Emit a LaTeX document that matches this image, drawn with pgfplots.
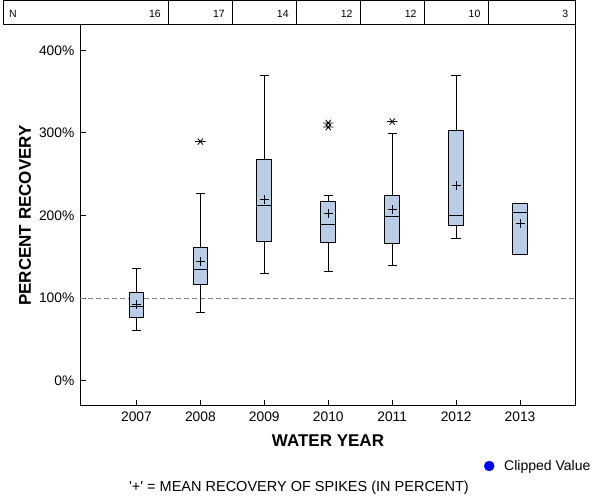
\documentclass[border=0pt]{standalone}
\usepackage{fontspec}
\setmainfont{Liberation Sans}
\usepackage{pgfplots}
\pgfplotsset{compat=1.18}
\definecolor{boxblue}{RGB}{184,206,230}
\definecolor{dashgray}{RGB}{128,128,128}
% whiskers: center, cap left, cap right, lower whisker, lower quartile, upper quartile, upper whisker
\newcommand{\whisk}[7]{%
  \addplot[black, line width=1pt, forget plot] coordinates {(#1,#5) (#1,#4)};
  \addplot[black, line width=1pt, forget plot] coordinates {(#2,#4) (#3,#4)};
  \addplot[black, line width=1pt, forget plot] coordinates {(#1,#6) (#1,#7)};
  \addplot[black, line width=1pt, forget plot] coordinates {(#2,#7) (#3,#7)};
}
% box: left, right, lower quartile, median, upper quartile
\newcommand{\boxx}[5]{%
  \addplot[black, line width=1pt, fill=boxblue, line cap=rect, forget plot] coordinates {(#1,#3) (#2,#3) (#2,#5) (#1,#5) (#1,#3)};
  \addplot[black, line width=1pt, forget plot] coordinates {(#1,#4) (#2,#4)};
}
\begin{document}
\begin{tikzpicture}
\begin{axis}[
  scale only axis, width=495pt, height=381pt,
  xmin=-0.875, xmax=6.867, ymin=-30.6, ymax=430.6,
  clip=false,
  axis line style={line width=1pt, black},
  xtick={0,1,2,3,4,5,6},
  xticklabels={2007,2008,2009,2010,2011,2012,2013},
  ytick={0,100,200,300,400},
  yticklabels={0\%,100\%,200\%,300\%,400\%},
  xtick pos=lower, ytick pos=lower,
  tick align=inside, major tick length=6pt,
  tick style={black, line width=1pt},
  ticklabel style={font=\fontsize{13.8}{16}\selectfont},
  xticklabel style={anchor=base, yshift=-15.5pt},
  yticklabel style={anchor=east, inner sep=0pt, xshift=-6pt},
  xlabel={WATER YEAR},
  xlabel style={font=\bfseries\fontsize{17}{20}\selectfont, at={(axis description cs:0.5,-0.1076)}, anchor=base},
  ylabel={PERCENT RECOVERY},
  ylabel style={font=\bfseries\fontsize{17}{20}\selectfont, at={(axis description cs:-0.1,0.5)}, anchor=base},
  legend style={at={(0.8152,-0.1575)}, anchor=west, draw=none, fill=none, inner sep=0pt,
    font=\fontsize{14}{16}\selectfont},
]
\addplot[forget plot, dashgray, line width=1pt, dash pattern=on 5pt off 3pt] coordinates {(-0.875,100) (6.867,100)};

% whiskers
\whisk{0}{-0.0725}{0.0725}{61}{76.7}{106.9}{135.9}
\whisk{1}{0.9275}{1.0725}{82.7}{116.6}{161.3}{226.6}
\whisk{2}{1.9275}{2.0725}{129.9}{168.6}{267.7}{369.6}
\whisk{3}{2.9275}{3.0725}{132.3}{167.4}{216.9}{223.7}
\whisk{4}{3.9275}{4.0725}{139.5}{166.1}{224.2}{299.2}
\whisk{5}{4.9275}{5.0725}{172.6}{187.9}{302.8}{369.6}
% boxes
\boxx{-0.115}{0.115}{76.7}{90}{106.9}
\boxx{0.885}{1.115}{116.6}{134.7}{161.3}
\boxx{1.885}{2.115}{168.6}{212.1}{267.7}
\boxx{2.885}{3.115}{167.4}{189.1}{216.9}
\boxx{3.885}{4.115}{166.1}{198.8}{224.2}
\boxx{4.885}{5.115}{187.9}{200.0}{302.8}
\boxx{5.885}{6.115}{152.8}{203.6}{214.5}

% means
\addplot[forget plot, only marks, mark=+, mark size=4.5pt, mark options={black, line width=1pt}]
  coordinates {(0,92.4) (1,143.9) (2,219.3) (3,201.9) (4,207.3) (5,235.8) (6,189.8)};
% outliers
\addplot[forget plot, only marks, mark=asterisk, mark size=4.5pt, mark options={black, line width=0.8pt, rotate=90, xscale=0.8, yscale=1.15}]
  coordinates {(1,289.5) (3,312) (3,307) (4,313.7)};

\addlegendimage{only marks, mark=*, mark size=5pt, mark options={draw=blue, fill=blue}}
\addlegendentry{\hspace*{8pt}Clipped Value}
\end{axis}
% N table
\begin{scope}[line width=1pt]
\draw (-76.5pt,381pt) rectangle (495pt,405pt);
\foreach \d in {87.9,151.9,215.8,279.7,343.7,407.6} {\draw (\d pt,381pt) -- (\d pt,405pt);}
\end{scope}
\begin{scope}[font=\fontsize{10.5}{12}\selectfont, inner sep=0pt]
\node[anchor=base west] at (-71.5pt,388.5pt) {N};
\node[anchor=base east] at (80.4pt,388.5pt) {16};
\node[anchor=base east] at (144.4pt,388.5pt) {17};
\node[anchor=base east] at (208.3pt,388.5pt) {14};
\node[anchor=base east] at (272.2pt,388.5pt) {12};
\node[anchor=base east] at (336.2pt,388.5pt) {12};
\node[anchor=base east] at (400.1pt,388.5pt) {10};
\node[anchor=base east] at (488pt,388.5pt) {3};
\end{scope}
\node[anchor=base, inner sep=0pt, font=\fontsize{14.5}{16}\selectfont] at (218.5pt,-86pt)
  {\textquotesingle+\textquotesingle{} = MEAN RECOVERY OF SPIKES (IN PERCENT)};
\pgfresetboundingbox
\path[use as bounding box] (-80.5pt,-94pt) rectangle (519.5pt,406pt);
\end{tikzpicture}
\end{document}
